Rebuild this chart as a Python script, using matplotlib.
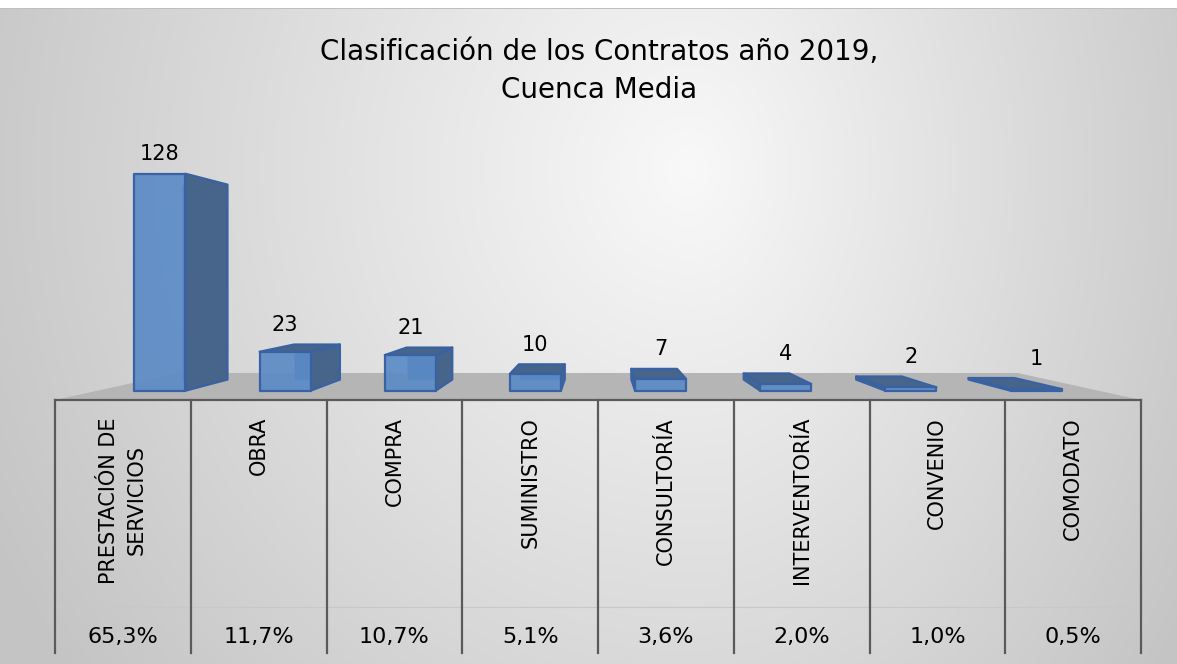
import numpy as np
import matplotlib.pyplot as plt
from matplotlib.patches import Polygon

# datos del grafico
categorias = ['PRESTACIÓN DE\nSERVICIOS', 'OBRA', 'COMPRA', 'SUMINISTRO',
              'CONSULTORÍA', 'INTERVENTORÍA', 'CONVENIO', 'COMODATO']
contratos = [128, 23, 21, 10, 7, 4, 2, 1]
porcentajes = ['65,3%', '11,7%', '10,7%', '5,1%', '3,6%', '2,0%', '1,0%', '0,5%']
titulo = ['Clasificación de los Contratos año 2019,', 'Cuenca Media']

W, H = 1177, 664
fig = plt.figure(figsize=(W / 100, H / 100), dpi=100)

# fondo con degradado gris
bg = fig.add_axes([0, 0, 1, 1], zorder=0)
yy, xx = np.mgrid[0:H, 0:W]
rx = np.where(xx < 690, 690, 520)
r = np.sqrt(((xx - 690) / rx) ** 2 + ((yy - 170) / 720) ** 2)
g = np.clip(0.975 - 0.18 * r, 0.77, 1)
img = np.dstack([g, g, g])
img[:8] = 1
img[8] = 0.75
bg.imshow(img, extent=(0, W, H, 0), aspect='auto', interpolation='bilinear')
bg.set_xlim(0, W)
bg.set_ylim(H, 0)
bg.axis('off')

# ejes principales: x en categorias, y en numero de contratos
s = 1.839  # pixeles por contrato en el plano frontal
top_px = 100
ax = fig.add_axes([55 / W, (H - 400) / H, 1086 / W, (400 - top_px) / H], zorder=1)
ax.set_xlim(0, len(categorias))
ax.set_ylim(0, (400 - top_px) / s)
ax.axis('off')

# perspectiva simple hacia un punto de fuga
uvp, vvp = len(categorias) / 2, (400 - 281) / s
f_front, f_back, f_floor = 0.922, 0.828, 0.773


def P(u, v, f):
    return (uvp + (u - uvp) * f, vvp + (v - vvp) * f)


# piso
floor = [P(0, 0, 1), P(len(categorias), 0, 1), P(len(categorias), 0, f_floor), P(0, 0, f_floor)]
ax.add_patch(Polygon(floor, closed=True, facecolor='#b5b5b5', edgecolor='none', zorder=1))

front_c = '#5b8bc6'
side_c = '#47648a'
edge_c = '#3862a3'
bw = 0.407

for i, val in enumerate(contratos):
    u0, u1 = i + 0.5 - bw / 2, i + 0.5 + bw / 2
    # cara trasera (aristas ocultas visibles por la transparencia)
    back = [P(u0, 0, f_back), P(u1, 0, f_back), P(u1, val, f_back), P(u0, val, f_back)]
    ax.add_patch(Polygon(back, closed=True, facecolor=side_c, edgecolor='#7aa3d9',
                         lw=0.8, zorder=2))
    # caras laterales
    if u1 < uvp:
        side = [P(u1, 0, f_front), P(u1, 0, f_back), P(u1, val, f_back), P(u1, val, f_front)]
        ax.add_patch(Polygon(side, closed=True, facecolor=side_c, edgecolor=edge_c,
                             lw=1.6, joinstyle='round', zorder=3))
    if u0 > uvp:
        side = [P(u0, 0, f_front), P(u0, 0, f_back), P(u0, val, f_back), P(u0, val, f_front)]
        ax.add_patch(Polygon(side, closed=True, facecolor=side_c, edgecolor=edge_c,
                             lw=1.6, joinstyle='round', zorder=3))
    # cara superior
    if val < vvp:
        top = [P(u0, val, f_front), P(u1, val, f_front), P(u1, val, f_back), P(u0, val, f_back)]
        ax.add_patch(Polygon(top, closed=True, facecolor=side_c, edgecolor=edge_c,
                             lw=1.6, joinstyle='round', zorder=3))
    # cara frontal
    front = [P(u0, 0, f_front), P(u1, 0, f_front), P(u1, val, f_front), P(u0, val, f_front)]
    ax.add_patch(Polygon(front, closed=True, facecolor=front_c, alpha=0.92,
                         edgecolor='none', zorder=4))
    ax.add_patch(Polygon(front, closed=True, facecolor='none', edgecolor=edge_c,
                         lw=1.6, joinstyle='round', zorder=5))
    # etiqueta de valor sobre el punto mas alto de la barra
    lx, ly_front = P(i + 0.5, val, f_front)
    _, ly_back = P(i + 0.5, val, f_back)
    ax.annotate(str(val), (lx, max(ly_front, ly_back)), xytext=(0, 14),
                textcoords='offset points', ha='center', va='center',
                fontsize=15, color='black', zorder=6, annotation_clip=False)

# tabla inferior
tab = fig.add_axes([55 / W, (H - 653) / H, 1086 / W, 253 / H], zorder=1)
tab.set_xlim(0, len(categorias))
tab.set_ylim(0, 253)
tab.axis('off')
line_c = '#5a5a5a'
tab.plot([0, len(categorias)], [253, 253], color=line_c, lw=1.6, clip_on=False)
tab.plot([0, len(categorias)], [46, 46], color='#c8c8c8', lw=0.8, clip_on=False)
for k in range(len(categorias) + 1):
    tab.plot([k, k], [0, 253], color=line_c, lw=1.6, clip_on=False)
for i, (cat, pct) in enumerate(zip(categorias, porcentajes)):
    tab.text(i + 0.5, 236, cat, rotation=90, ha='center', va='top',
             multialignment='center', fontsize=15, color='black', linespacing=1.45)
    tab.text(i + 0.5, 16, pct, ha='center', va='center', fontsize=16, color='black')

# titulo
fig.text(599 / W, 1 - 52 / H, titulo[0], ha='center', va='center', fontsize=20, color='black')
fig.text(599 / W, 1 - 90 / H, titulo[1], ha='center', va='center', fontsize=20, color='black')

fig.savefig('out.png', dpi=100)
